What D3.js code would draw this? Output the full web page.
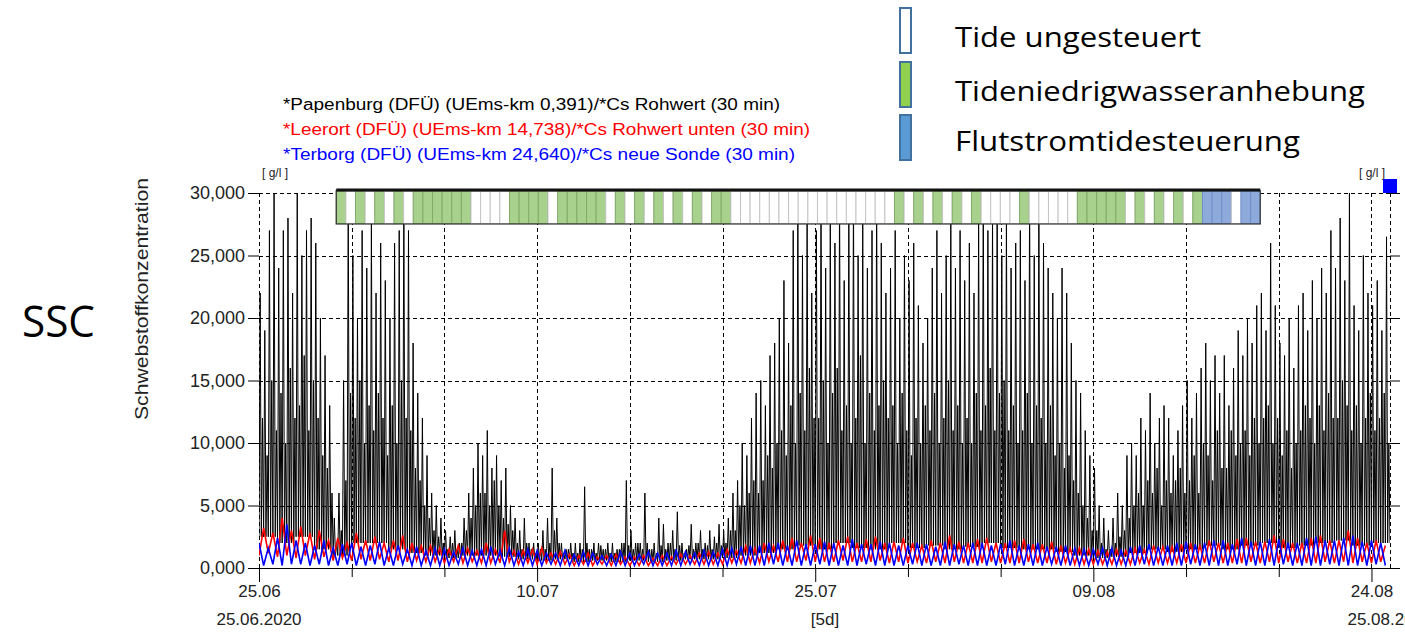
<!DOCTYPE html>
<html><head><meta charset="utf-8">
<script src="https://cdn.jsdelivr.net/npm/d3@7"></script>
<style>
html,body{margin:0;padding:0;background:#fff;}
svg{display:block;}
</style></head>
<body>
<svg id="c" width="1405" height="633"></svg>
<script>
// ---------------- DATA ----------------
const startDate = "2020-06-25T00:00:00Z";
const endDate = "2020-08-25T00:00:00Z";
const stepHours = 6;           // sampling step of the stored series
const tickDays = [0,5,10,15,20,25,30,35,40,45,50,55,60]; // days after start
const labelDays = [0,15,30,45,60];
const yTicks = [0,5,10,15,20,25,30];

const seriesNames = [
  "*Papenburg (DFÜ) (UEms-km 0,391)/*Cs Rohwert (30 min)",
  "*Leerort (DFÜ) (UEms-km 14,738)/*Cs Rohwert unten (30 min)",
  "*Terborg (DFÜ) (UEms-km 24,640)/*Cs neue Sonde (30 min)"
];
const seriesColors = ["#000000", "#ff0000", "#0000ff"];

// Papenburg: main peak in each 6 h slot (g/l)
const papenburgPeaks = [
 22,19,27,30, 24,27,28,22, 30,25,27,28, 26,20,17,13, 4,6,15,30,
 25,20,27,24, 28,22,26,23, 20,26,27,30, 27,18,14,12, 9,6,5,4,
 3,2.5,3,2, 4,6,8,10, 9,11,8,9, 7,8,5,4, 3,4,2,2,
 2,3,4,8, 4,2,1.5,2, 2,2,6.5,1.5, 2,2,1.5,2, 2,1.5,2,7,
 3,2,2,6, 1.5,2,4,3.5, 2,3,4.5,2, 1.5,3.5,2,3, 2,3,2.5,3.5,
 3,4,6,7, 10,9,12,14, 15,13,17,18, 20,23,18,27, 30,25,28,22,
 27,30,24,28, 26,30,23,28, 30,25,28,24, 27,30,26,22, 24,27,20,25,
 23,26,21,18, 20,24,27,22, 25,28,24,27, 23,26,22,28, 30,27,28,30,
 25,28,24,26, 27,23,30,25, 30,26,24,22, 20,24,22,18, 15,14,11,9,
 8,5,4,3, 4,6,5,9, 10,9,12,11, 14,10,12,13, 12,9,11,13,
 15,12,14,16, 18,15,17,14, 17,13,16,19, 17,20,18,21, 22,19,26,21,
 18,17,20,16, 21,22,19,23, 20,24,22,27, 24,28,23,30, 21,19,25,22,
 21,23,19,26.5
];
// Papenburg: smaller secondary peak in each 6 h slot (g/l)
const papenburgPeaks2 = [
 12,9,15,11, 14,10,16,12, 13,17,11,15, 12,9,8,6, 2,3,7,14,
 12,15,10,13, 11,14,12,9, 13,10,15,12, 11,8,7,5, 4,3,2.5,2,
 1.5,2,1.5,2, 3,4,5,6, 6,5,7,5, 4,3.5,3,2, 1.5,2,1.5,1.2,
 1.5,1.5,2,3, 2,1.2,1.5,1.2, 1.2,1.5,2,1.5, 1.2,1.8,1.5,1.2, 1.2,1.5,2,1.8,
 1.5,2,1.5,2, 1.5,1.2,1.8,1.5, 2,1.5,1.8,1.2, 1.8,1.5,2,1.5, 1.8,1.5,2,1.8,
 2,3,3,5, 5,6,7,6, 7,9,8,10, 11,9,13,10, 14,11,16,12,
 12,15,10,14, 16,11,13,10, 12,17,10,14, 11,13,15,12, 13,10,14,11,
 9,12,10,13, 11,14,10,12, 15,11,13,10, 12,10,14,11, 13,16,11,14,
 15,11,13,10, 11,14,10,13, 12,10,13,9, 10,8,9,7, 6,5,4,3,
 3,2,1.5,1.5, 2,2.5,3,4, 5,6,5,7, 6,8,5,7, 6,7,8,6,
 7,9,6,10, 9,7,11,8, 8,11,9,10, 11,9,12,10, 12,13,10,12,
 9,11,8,10, 11,13,12,10, 13,11,14,12, 12,15,13,11, 13,10,12,14,
 11,12,14,10
];
// Papenburg: daily low level (g/l)
const papenburgLows = [
 2.5,2,2.5,1.5, 1, 2,2,1.5,1.2, 1, 0.8, 1,1,0.9,
 0.7,0.6,0.7,0.5,0.6,0.5,0.6,0.5,0.6,0.7,0.7,
 0.8, 1,1.2,
 1.5,1.8,1.5,2,1.6,1.5,2,1.6,1.8,1.5,1.7,2,1.6,1.5,1.5,
 1.3, 1, 0.8,0.9,
 1.2,1.5,1.3,1.5,1.8,1.5,1.8,2,1.6,1.8,2,2.2,1.8,2
];
// Leerort: values every 6 h (g/l)
const leerort = [
 1.0,3.2,1.2,2.8, 0.9,4.0,1.0,3.0, 0.8,3.3,1.0,2.8, 0.7,3.0,0.9,2.2, 0.6,2.4,0.8,2.0,
 0.6,2.8,0.7,2.2, 0.6,2.5,0.7,2.0, 0.5,2.2,0.6,2.6, 0.5,2.0,0.6,1.8, 0.5,1.8,0.5,1.6,
 0.4,1.5,0.5,1.8, 0.4,1.6,0.5,1.4, 0.4,2.0,0.4,1.5, 0.4,3.0,0.5,1.4, 0.3,1.4,0.4,1.5,
 0.3,1.6,0.4,1.2, 0.3,1.3,0.3,1.1, 0.2,1.0,0.3,1.2, 0.2,0.9,0.3,1.0, 0.2,1.1,0.3,0.9,
 0.2,0.9,0.2,1.0, 0.2,0.8,0.2,1.0, 0.2,0.9,0.3,1.1, 0.3,1.0,0.3,1.2, 0.3,1.3,0.3,1.2,
 0.3,1.5,0.4,1.4, 0.4,1.8,0.4,1.6, 0.4,2.0,0.5,1.8, 0.5,2.2,0.5,2.4, 0.5,2.0,0.6,2.6,
 0.5,2.4,0.5,2.0, 0.5,2.2,0.6,2.5, 0.5,2.0,0.5,2.3, 0.5,2.5,0.6,2.0, 0.4,2.1,0.5,2.4,
 0.4,2.0,0.5,1.8, 0.4,2.2,0.5,2.0, 0.4,2.6,0.5,2.1, 0.4,2.0,0.4,2.3, 0.4,2.4,0.5,2.0,
 0.4,2.0,0.4,2.2, 0.4,2.3,0.5,1.9, 0.4,1.9,0.4,2.1, 0.3,1.8,0.4,1.6, 0.3,1.6,0.3,1.5,
 0.3,1.4,0.3,1.3, 0.3,1.5,0.3,1.4, 0.3,1.6,0.4,1.5, 0.3,1.8,0.4,1.7, 0.4,1.7,0.4,1.9,
 0.4,2.0,0.4,1.8, 0.4,2.2,0.5,2.0, 0.4,2.0,0.4,2.3, 0.4,2.4,0.5,2.1, 0.4,2.1,0.5,2.6,
 0.4,2.3,0.5,2.0, 0.4,2.0,0.4,2.4, 0.4,2.6,0.5,2.2, 0.4,2.2,0.5,3.0, 0.4,2.4,0.5,2.0,
 0.4,2.2,0.5,1.8
];
// Terborg: values every 6 h (g/l)
const terborg = [
 2.0,0.2,1.6,0.3, 2.4,0.2,3.5,0.3, 2.2,0.3,2.0,0.2, 1.8,0.3,2.2,0.2, 1.6,0.2,1.9,0.3,
 2.0,0.2,1.7,0.2, 1.8,0.3,2.1,0.2, 1.6,0.2,1.8,0.3, 1.5,0.2,1.7,0.2, 1.4,0.2,1.6,0.2,
 1.5,0.2,1.3,0.3, 1.6,0.2,1.4,0.2, 1.5,0.2,1.7,0.3, 1.4,0.2,1.6,0.2, 1.3,0.2,1.5,0.2,
 1.4,0.2,1.2,0.3, 1.2,0.2,1.4,0.2, 1.1,0.2,1.3,0.2, 1.2,0.3,1.0,0.2, 1.1,0.2,1.3,0.2,
 1.2,0.2,1.1,0.3, 1.3,0.2,1.2,0.2, 1.2,0.2,1.4,0.2, 1.3,0.3,1.2,0.2, 1.4,0.2,1.3,0.2,
 1.5,0.2,1.6,0.3, 1.7,0.2,1.8,0.2, 1.8,0.2,2.0,0.3, 2.0,0.2,1.8,0.2, 2.2,0.2,1.9,0.2,
 1.9,0.3,2.1,0.2, 2.0,0.2,1.8,0.2, 2.3,0.2,1.9,0.3, 1.9,0.2,2.1,0.2, 2.0,0.2,1.8,0.2,
 1.8,0.3,2.0,0.2, 1.9,0.2,1.7,0.2, 2.1,0.2,1.9,0.3, 1.8,0.2,2.0,0.2, 2.0,0.2,1.8,0.2,
 1.9,0.3,2.2,0.2, 1.8,0.2,1.9,0.2, 2.0,0.2,1.7,0.3, 1.7,0.2,1.8,0.2, 1.6,0.2,1.5,0.2,
 1.5,0.3,1.6,0.2, 1.6,0.2,1.4,0.2, 1.7,0.2,1.8,0.3, 1.9,0.2,1.7,0.2, 1.8,0.2,2.0,0.2,
 2.1,0.3,1.9,0.2, 2.0,0.2,2.2,0.2, 2.2,0.2,1.9,0.3, 2.4,0.2,2.1,0.2, 2.1,0.2,2.3,0.2,
 2.3,0.3,2.0,0.2, 2.0,0.2,2.4,0.2, 2.5,0.2,2.2,0.3, 2.2,0.2,2.4,0.2, 2.6,0.2,2.1,0.2,
 2.2,0.3,2.0,0.2
];

// Tide control strip: one entry per tide (W = ungesteuert, G = Tideniedrigwasseranhebung, B = Flutstromtidesteuerung)
const stripStart = "2020-06-29T04:00:00Z";
const stripEnd = "2020-08-18T00:00:00Z";
const tideStates = ("GWGWGWGW" + "GGGGGG" + "WWWW" + "GGGG" + "W" + "GGGGG" +
  "WGWGWGWGWGW" + "GG" + "WWWWWWWWWWWWWWWWW" + "GWGWGWGWG" + "WWWW" + "G" +
  "WWWWW" + "GGGGG" + "WGWGWGWG" + "BBB" + "W" + "BB").split("");

const legendLabels = ["Tide ungesteuert", "Tideniedrigwasseranhebung", "Flutstromtidesteuerung"];
const legendKeys = ["W", "G", "B"];
const stateFill = {W: "#ffffff", G: "#a9d18e", B: "#8eaadb"};
const stateStroke = {W: "#c4c4c4", G: "#82ab68", B: "#6f8fc8"};
const legendFill = {W: "#ffffff", G: "#92d050", B: "#5b9bd5"};

// ---------------- CHART ----------------
const svg = d3.select("#c");
const t0 = new Date(startDate);
const t1 = new Date(endDate);
const H = 3600 * 1000, D = 24 * H;
const x = d3.scaleUtc().domain([t0, t1]).range([259, 1390]);
const y = d3.scaleLinear().domain([0, 30]).range([568, 193]);
const de = d3.formatLocale({decimal: ",", thousands: ".", grouping: [3], currency: ["", "€"]});
const fmtY = de.format(".3f");
const FONT = "'Liberation Sans', Arial, sans-serif";

// grid
const grid = svg.append("g").attr("stroke", "#000").attr("stroke-width", 1)
  .attr("stroke-dasharray", "4,3").attr("shape-rendering", "crispEdges");
grid.selectAll("line.h").data(yTicks.filter(v => v > 0)).join("line")
  .attr("x1", x(t0)).attr("x2", x(t1)).attr("y1", d => Math.round(y(d)) + 0.5).attr("y2", d => Math.round(y(d)) + 0.5);
grid.selectAll("line.v").data(tickDays.concat([61])).join("line")
  .attr("x1", d => Math.round(x(new Date(+t0 + d * D))) + 0.5)
  .attr("x2", d => Math.round(x(new Date(+t0 + d * D))) + 0.5)
  .attr("y1", y(30)).attr("y2", y(0));

// series
svg.append("clipPath").attr("id", "pc").append("rect")
  .attr("x", x(t0)).attr("y", y(30) - 1).attr("width", x(t1) - x(t0)).attr("height", y(0) - y(30) + 1);

const blackPts = [];
papenburgPeaks.forEach((v, i) => {
  const tt = +t0 + i * stepHours * H;
  const low = papenburgLows[Math.floor(i / 4)];
  blackPts.push([new Date(tt), low]);
  blackPts.push([new Date(tt + 1.5 * H), v]);
  blackPts.push([new Date(tt + 3 * H), low]);
  blackPts.push([new Date(tt + 4.5 * H), papenburgPeaks2[i]]);
});
blackPts.push([t1, papenburgLows[papenburgLows.length - 1]]);
const redPts = leerort.map((v, i) => [new Date(+t0 + i * stepHours * H), v]);
const bluePts = terborg.map((v, i) => [new Date(+t0 + i * stepHours * H), v]);

const line = d3.line().x(d => x(d[0])).y(d => y(d[1]));
const sg = svg.append("g").attr("clip-path", "url(#pc)").attr("fill", "none");
sg.append("path").attr("d", line(blackPts)).attr("stroke", seriesColors[0]).attr("stroke-width", 1);
sg.append("path").attr("d", line(redPts)).attr("stroke", seriesColors[1]).attr("stroke-width", 1.6);
sg.append("path").attr("d", line(bluePts)).attr("stroke", seriesColors[2]).attr("stroke-width", 1.6);

// axes
const xAxis = d3.axisBottom(x)
  .tickValues(tickDays.map(d => new Date(+t0 + d * D)))
  .tickSize(9).tickPadding(6)
  .tickFormat((d, i) => labelDays.includes(tickDays[i]) ? d3.utcFormat("%d.%m")(d) : "");
const gx = svg.append("g").attr("transform", "translate(0,568)").call(xAxis);
gx.select(".domain").remove();
gx.selectAll(".tick line").attr("y2", (d, i) => labelDays.includes(tickDays[i]) ? 14 : 9).attr("stroke", "#000");
gx.selectAll(".tick text").attr("font-family", FONT).attr("font-size", 17).attr("fill", "#222").attr("dy", "0.8em");
svg.append("line").attr("x1", 248).attr("x2", 1400).attr("y1", 568.5).attr("y2", 568.5).attr("stroke", "#000");

const yAxis = d3.axisLeft(y).tickValues(yTicks).tickSize(11).tickPadding(3).tickFormat(fmtY);
const gy = svg.append("g").attr("transform", "translate(259,0)").call(yAxis);
gy.select(".domain").remove();
gy.selectAll(".tick text").attr("font-family", FONT).attr("font-size", 18).attr("fill", "#222");
const gyr = svg.append("g").attr("transform", "translate(1390,0)").call(d3.axisRight(y).tickValues(yTicks).tickSize(10).tickFormat(""));
gyr.select(".domain").remove();

// date labels under axis
const dateLbl = svg.append("g").attr("font-family", FONT).attr("font-size", 17).attr("fill", "#222").attr("text-anchor", "middle");
dateLbl.append("text").attr("x", x(t0)).attr("y", 625).text(d3.utcFormat("%d.%m.%Y")(t0));
dateLbl.append("text").attr("x", x(t1)).attr("y", 625).text(d3.utcFormat("%d.%m.%Y")(t1));
dateLbl.append("text").attr("x", 825).attr("y", 625).text("[5d]");

// units
svg.append("text").attr("x", 275).attr("y", 177).attr("text-anchor", "middle").attr("font-family", FONT)
  .attr("font-size", 12).attr("fill", "#222").text("[ g/l ]");
svg.append("text").attr("x", 1372).attr("y", 177).attr("text-anchor", "middle").attr("font-family", FONT)
  .attr("font-size", 12).attr("fill", "#222").text("[ g/l ]");
svg.append("rect").attr("x", 1383).attr("y", 179).attr("width", 14).attr("height", 14).attr("fill", "#0000ff");

// y title
svg.append("text").attr("transform", "translate(148,299) rotate(-90)").attr("text-anchor", "middle")
  .attr("font-family", FONT).attr("font-size", 18).attr("fill", "#222")
  .attr("textLength", 242).attr("lengthAdjust", "spacingAndGlyphs").text("Schwebstoffkonzentration");

// series legend
const legLens = [497, 527, 512];
seriesNames.forEach((n, i) => {
  svg.append("text").attr("x", 283).attr("y", 110 + i * 25).attr("font-family", FONT).attr("font-size", 16)
    .attr("fill", seriesColors[i]).attr("textLength", legLens[i]).attr("lengthAdjust", "spacingAndGlyphs").text(n);
});

// tide strip
const sx0 = x(new Date(stripStart)), sx1 = x(new Date(stripEnd));
const band = d3.scaleBand().domain(d3.range(tideStates.length)).range([sx0, sx1]).padding(0);
const strip = svg.append("g");
strip.append("rect").attr("x", sx0).attr("y", 190).attr("width", sx1 - sx0).attr("height", 34).attr("fill", "#fff");
strip.selectAll("rect.cell").data(tideStates).join("rect").attr("class", "cell")
  .attr("x", (d, i) => band(i)).attr("y", 191.5).attr("width", band.bandwidth()).attr("height", 32)
  .attr("fill", d => stateFill[d]).attr("stroke", d => stateStroke[d]).attr("stroke-width", 1);
strip.append("rect").attr("x", sx0).attr("y", 190.5).attr("width", sx1 - sx0).attr("height", 33.5)
  .attr("fill", "none").attr("stroke", "#333").attr("stroke-width", 1.2);
strip.append("line").attr("x1", sx0).attr("x2", sx1).attr("y1", 190).attr("y2", 190).attr("stroke", "#111").attr("stroke-width", 3);

// control legend
const OF = "'Open Sans', 'Noto Sans', sans-serif";
const legY = [8, 62, 115];
const legBase = [47, 101, 151];
const legLen = [246, 410, 345];
legendKeys.forEach((k, i) => {
  svg.append("rect").attr("x", 900).attr("y", legY[i]).attr("width", 11).attr("height", 45)
    .attr("fill", legendFill[k]).attr("stroke", "#41719c").attr("stroke-width", 2);
  svg.append("text").attr("x", 955).attr("y", legBase[i]).attr("font-family", OF).attr("font-size", 28)
    .attr("fill", "#000").attr("textLength", legLen[i]).attr("lengthAdjust", "spacingAndGlyphs").text(legendLabels[i]);
});

// SSC label
svg.append("text").attr("x", 22).attr("y", 337).attr("font-family", OF).attr("font-size", 44)
  .attr("fill", "#000").attr("textLength", 73).attr("lengthAdjust", "spacingAndGlyphs").text("SSC");
</script>
</body></html>
